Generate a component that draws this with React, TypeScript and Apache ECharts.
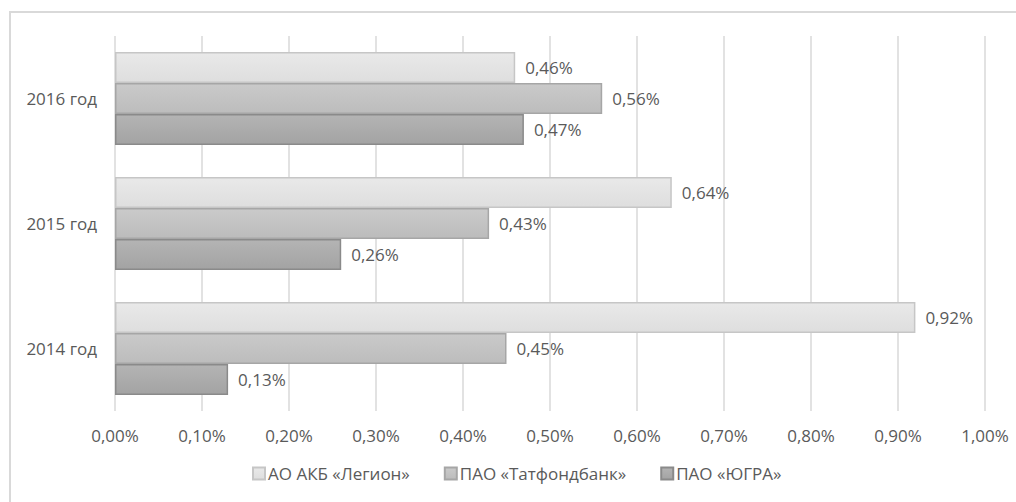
import React, { useEffect, useRef } from "react";
import * as echarts from "echarts";

const categories = ["2014 год", "2015 год", "2016 год"];
const legionValues = [0.92, 0.64, 0.46];
const tatfondValues = [0.45, 0.43, 0.56];
const yugraValues = [0.13, 0.26, 0.47];
const seriesNames = ["АО АКБ «Легион»", "ПАО «Татфондбанк»", "ПАО «ЮГРА»"];
const axisMax = 1.0;
const axisInterval = 0.1;

const FONT = "'Open Sans', 'Noto Sans', sans-serif";
const TEXT = "#5a5a5a";
const FS = 17;

const fmt = (v: number) => v.toFixed(2).replace(".", ",") + "%";

const grad = (a: string, b: string) =>
  new echarts.graphic.LinearGradient(0, 0, 0, 1, [
    { offset: 0, color: a },
    { offset: 1, color: b },
  ]);

export default function App() {
  const ref = useRef<HTMLDivElement>(null);
  useEffect(() => {
    if (!ref.current) return;
    const chart = echarts.init(ref.current, undefined, { renderer: "svg" });
    const mk = (name: string, data: number[], c1: string, c2: string, border: string) => ({
      name,
      type: "bar",
      data,
      barWidth: 31,
      barGap: "0%",
      itemStyle: { color: grad(c1, c2), borderColor: border, borderWidth: 1.5 },
      label: {
        show: true,
        position: "right",
        distance: 10,
        color: TEXT,
        fontFamily: FONT,
        fontSize: FS,
        formatter: (p: any) => fmt(p.value),
      },
    });
    chart.setOption({
      animation: false,
      backgroundColor: "#ffffff",
      graphic: [
        {
          type: "rect",
          shape: { x: 10, y: 12, width: 1020, height: 520 },
          style: { fill: "none", stroke: "#d9d9d9", lineWidth: 2 },
          silent: true,
        },
      ],
      grid: { left: 115, right: 31, top: 36, bottom: 91 },
      legend: {
        left: 247,
        top: 460,
        itemWidth: 12,
        itemHeight: 12,
        itemGap: 34,
        icon: "rect",
        data: seriesNames,
        textStyle: { color: TEXT, fontFamily: FONT, fontSize: FS, padding: [0, 0, 0, -2] },
      },
      xAxis: {
        type: "value",
        min: 0,
        max: axisMax,
        interval: axisInterval,
        axisLine: { show: false },
        axisTick: { show: false },
        splitLine: { show: true, lineStyle: { color: "#d9d9d9", width: 1.5 } },
        axisLabel: {
          color: TEXT,
          fontFamily: FONT,
          fontSize: FS,
          margin: 16,
          formatter: (v: number) => fmt(v),
        },
      },
      yAxis: {
        type: "category",
        data: categories,
        axisLine: { show: false },
        axisTick: { show: false },
        axisLabel: { color: TEXT, fontFamily: FONT, fontSize: FS, margin: 18 },
      },
      series: [
        mk(seriesNames[0], legionValues, "#e9e9e9", "#dedede", "#c6c6c6"),
        mk(seriesNames[1], tatfondValues, "#cacaca", "#bcbcbc", "#a6a6a6"),
        mk(seriesNames[2], yugraValues, "#b4b4b4", "#a3a3a3", "#8a8a8a"),
      ],
    });
    return () => chart.dispose();
  }, []);
  return (
    <div
      ref={ref}
      style={{ position: "fixed", left: 0, top: 0, width: 1016, height: 502 }}
    />
  );
}
